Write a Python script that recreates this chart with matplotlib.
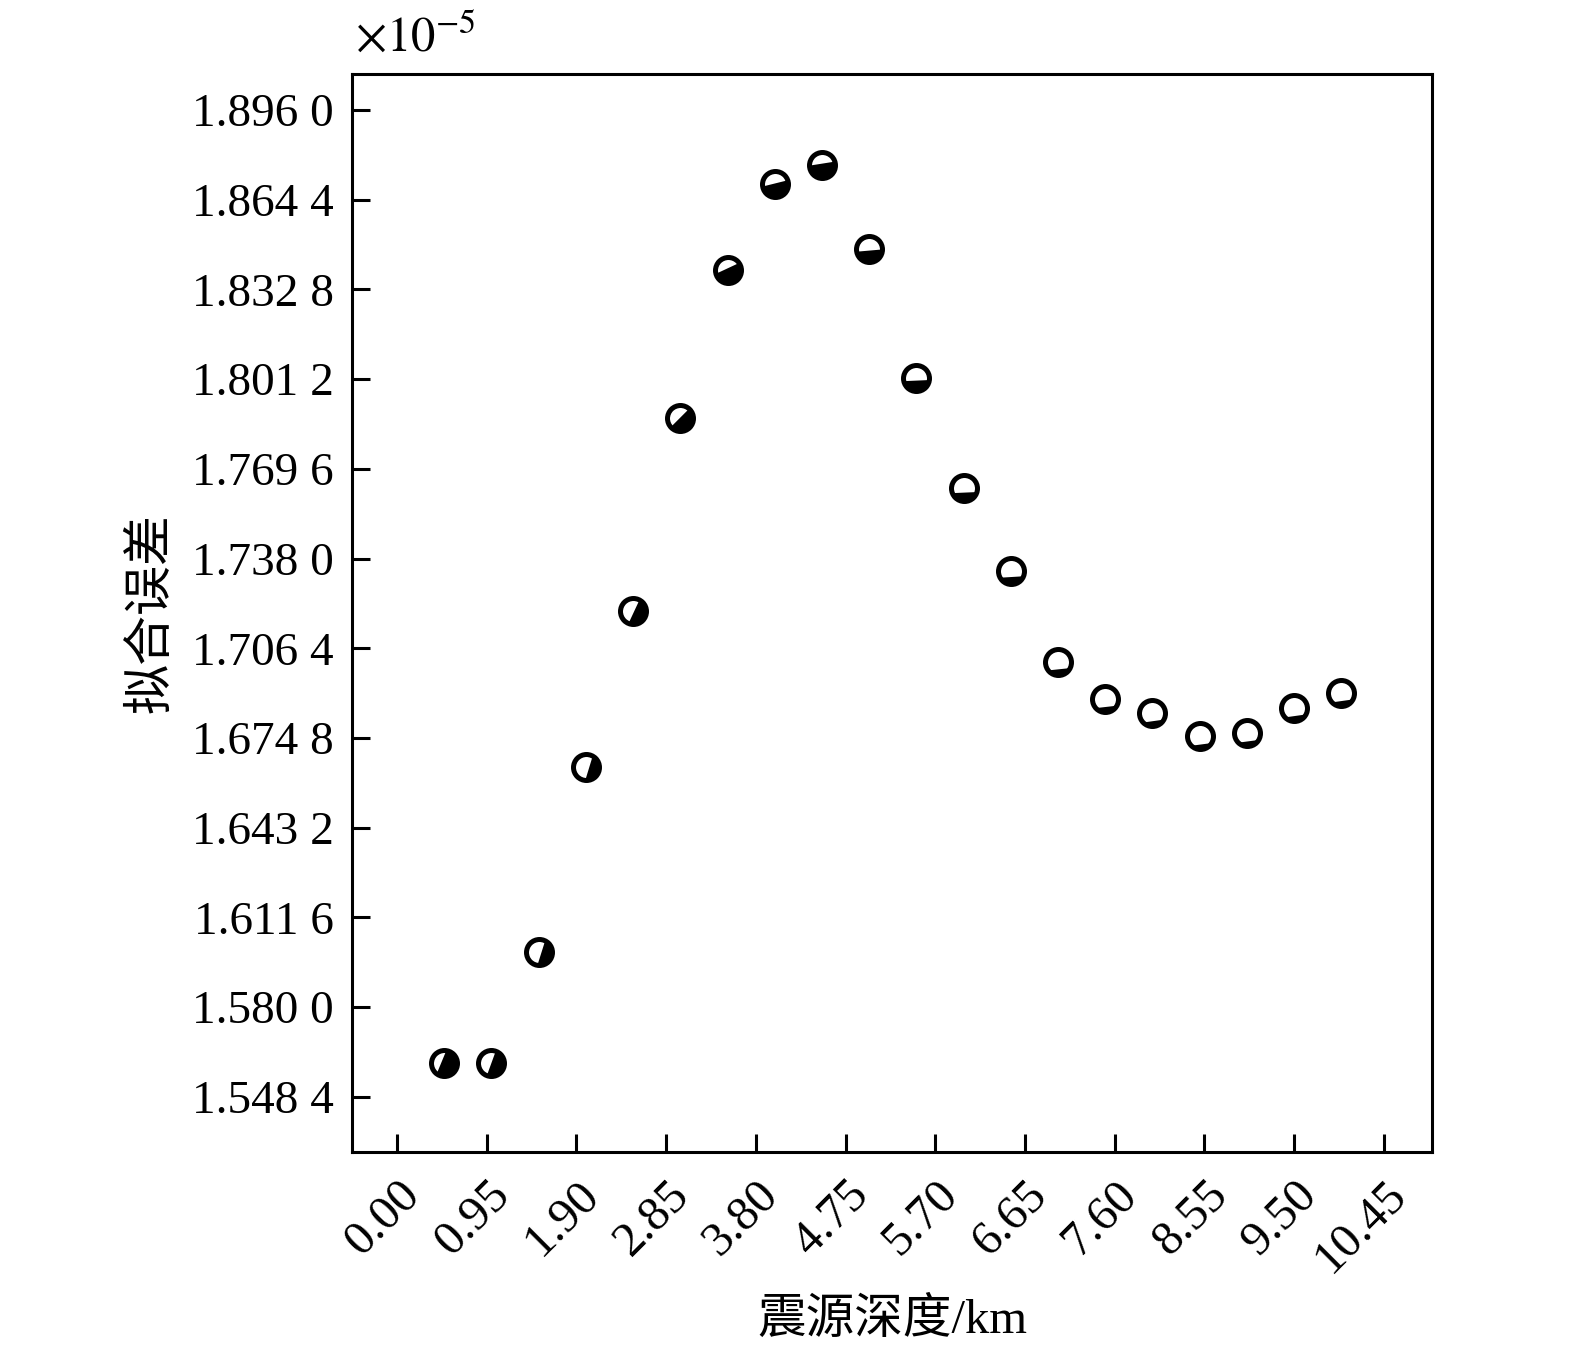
import numpy as np
import matplotlib
matplotlib.use("Agg")
import matplotlib.pyplot as plt
from matplotlib.path import Path
from matplotlib.transforms import ScaledTranslation

plt.rcParams['font.family'] = ['Liberation Serif', 'Noto Sans CJK SC']
plt.rcParams['mathtext.fontset'] = 'stix'

# ---- data ----
depth_km = [0.5, 1.0, 1.5, 2.0, 2.5, 3.0, 3.5, 4.0, 4.5, 5.0,
            5.5, 6.0, 6.5, 7.0, 7.5, 8.0, 8.5, 9.0, 9.5, 10.0]
fit_error_e5 = [1.5604, 1.5604, 1.5995, 1.6647, 1.7196, 1.7877, 1.8398, 1.8698, 1.8768, 1.8469,
                1.8017, 1.7630, 1.7337, 1.7017, 1.6886, 1.6837, 1.6756, 1.6767, 1.6855, 1.6908]
x_ticks = [0.00, 0.95, 1.90, 2.85, 3.80, 4.75, 5.70, 6.65, 7.60, 8.55, 9.50, 10.45]
x_tick_labels = ["0.00", "0.95", "1.90", "2.85", "3.80", "4.75", "5.70", "6.65",
                 "7.60", "8.55", "9.50", "10.45"]
y_ticks = [1.5484, 1.5800, 1.6116, 1.6432, 1.6748, 1.7064, 1.7380, 1.7696,
           1.8012, 1.8328, 1.8644, 1.8960]
y_tick_labels = ["1.548 4", "1.580 0", "1.611 6", "1.643 2", "1.674 8", "1.706 4",
                 "1.738 0", "1.769 6", "1.801 2", "1.832 8", "1.864 4", "1.896 0"]
x_label = "震源深度/km"
y_label = "拟合误差"

# ---- beach-ball glyph styling: black arc span (deg) for each symbol ----
ball_arcs = [(235, 440), (250, 430), (265, 420), (268, 418), (250, 420),
             (225, 405), (200, 390), (190, 378), (185, 373), (190, 360),
             (195, 350), (205, 340), (212, 335), (222, 330), (225, 328),
             (228, 328), (230, 325), (230, 325), (228, 328), (228, 328)]


def ball_path(a1, a2):
    t = np.radians(np.linspace(a1, a2, 60))
    verts = [(0.0, 1.0)] + list(zip(np.cos(t), np.sin(t))) + [(np.cos(t[0]), np.sin(t[0]))]
    codes = [Path.MOVETO, Path.MOVETO] + [Path.LINETO] * (len(t) - 1) + [Path.CLOSEPOLY]
    return Path(verts, codes)


fig = plt.figure(figsize=(15.75, 13.48), dpi=100)
ax = fig.add_axes([0.2235, 0.1454, 0.6857, 0.7997])

size = 350
ax.scatter(depth_km, fit_error_e5, s=size, marker='o', facecolor='white',
           edgecolor='black', linewidths=3.6, zorder=3)
for xv, yv, (a1, a2) in zip(depth_km, fit_error_e5, ball_arcs):
    ax.scatter([xv], [yv], s=size, marker=ball_path(a1, a2), facecolor='black',
               edgecolor='none', linewidths=0, zorder=4)

ax.set_xlim(-0.477, 10.96)
ax.set_ylim(1.5290, 1.9087)
ax.set_xticks(x_ticks)
ax.set_xticklabels(x_tick_labels, rotation=45, ha='right', va='center',
                   rotation_mode='anchor')
ax.set_yticks(y_ticks)
ax.set_yticklabels(y_tick_labels)
ax.tick_params(axis='both', direction='in', length=13, width=2.2,
               top=False, right=False)
ax.tick_params(axis='y', labelsize=34, pad=13)
ax.tick_params(axis='x', labelsize=35, pad=26)
offset = ScaledTranslation(16 / 100, 0, fig.dpi_scale_trans)
for lab in ax.get_xticklabels():
    lab.set_transform(lab.get_transform() + offset)
for sp in ax.spines.values():
    sp.set_linewidth(2.2)

ax.set_xlabel(x_label, fontsize=35, labelpad=12)
ax.set_ylabel(y_label, fontsize=36, labelpad=12)
ax.text(0.003, 1.012, r'$\times 10^{-5}$', transform=ax.transAxes, fontsize=35,
        ha='left', va='bottom')

fig.savefig("out.png", dpi=100)
